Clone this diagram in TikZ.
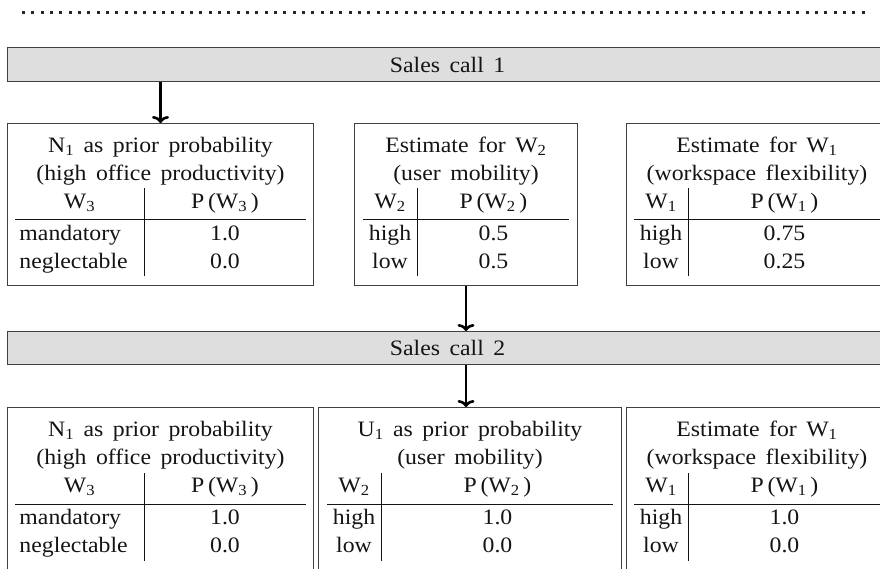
\documentclass[tikz,border=0pt]{standalone}
\usepackage{fontspec}
\setmainfont[FakeStretch=1.08,WordSpace=1.6]{Liberation Serif}
\usepackage{array}
\usepackage{tikz}
\usetikzlibrary{arrows.meta}
\usetikzlibrary{math}
\usetikzlibrary{calc}
\setlength{\tabcolsep}{4pt}
\setlength{\arrayrulewidth}{1pt}

\begin{document}
\begin{tikzpicture}[x=1pt,y=-1pt,
  every node/.style={font=\fontsize{22}{28}\selectfont, text=black!92},
  callbar/.style={draw=black!75, fill=black!13, line width=1.2pt, inner sep=0pt,
    anchor=north west, minimum width=880pt},
  probbox/.style={draw=black!75, line width=1pt, inner sep=0pt,
    anchor=north west, minimum height=\boxh pt},
  flow/.style={-{To[length=7pt,width=17pt]}, line width=2.6pt},
  dotline/.style={line width=3pt, dash pattern=on 3pt off 6.33pt, black!85}]

  \tikzmath{
    \boxh    = 162; % height of the probability boxes
    \rowone  = 123; % top of the boxes after sales call 1
    \rowtwo  = 407; % top of the boxes after sales call 2
    \wide    = 306; % width of the N1 boxes
    \narrow  = 261; % width of the W1 boxes
  }

  \useasboundingbox (0,0) rectangle (880,569);

  % separator on top
  \coordinate (dotsL) at (22,13);
  \coordinate (dotsR) at (867,13);
  \draw[dotline] (dotsL) -- (dotsR);

  % sales call bars
  \node[callbar, minimum height=34pt] (call1) at (7,47) {Sales call 1};
  \node[callbar, minimum height=33pt] (call2) at (7,331) {Sales call 2};

  % boxes after sales call 1
  \node[probbox, minimum width=\wide pt] (priorN) at (7,\rowone) {%
    \begin{tabular}{wl{120pt}|wc{153pt}}
      \multicolumn{2}{c}{N\textsubscript{1} as prior probability}\\
      \multicolumn{2}{c}{(high office productivity)}\\
      \multicolumn{1}{c|}{W\textsubscript{3}} & P\,(W\textsubscript{3}\,)\\[3pt] \hline
      mandatory & 1.0\\
      neglectable & 0.0
    \end{tabular}};

  \node[probbox, minimum width=223pt] (estWtwo) at (354,\rowone) {%
    \begin{tabular}{wc{46pt}|wc{143pt}}
      \multicolumn{2}{c}{Estimate for W\textsubscript{2}}\\
      \multicolumn{2}{c}{(user mobility)}\\
      W\textsubscript{2} & P\,(W\textsubscript{2}\,)\\[3pt] \hline
      high & 0.5\\
      low & 0.5
    \end{tabular}};

  \node[probbox, minimum width=\narrow pt] (estWone) at (626,\rowone) {%
    \begin{tabular}{wc{46pt}|wc{183pt}}
      \multicolumn{2}{c}{Estimate for W\textsubscript{1}}\\
      \multicolumn{2}{c}{(workspace flexibility)}\\
      W\textsubscript{1} & P\,(W\textsubscript{1}\,)\\[3pt] \hline
      high & 0.75\\
      low & 0.25
    \end{tabular}};

  % boxes after sales call 2
  \node[probbox, minimum width=\wide pt] (priorNb) at (7,\rowtwo) {%
    \begin{tabular}{wl{120pt}|wc{153pt}}
      \multicolumn{2}{c}{N\textsubscript{1} as prior probability}\\
      \multicolumn{2}{c}{(high office productivity)}\\
      \multicolumn{1}{c|}{W\textsubscript{3}} & P\,(W\textsubscript{3}\,)\\[3pt] \hline
      mandatory & 1.0\\
      neglectable & 0.0
    \end{tabular}};

  \node[probbox, minimum width=303pt] (priorU) at (318,\rowtwo) {%
    \begin{tabular}{wc{46pt}|wc{223pt}}
      \multicolumn{2}{c}{U\textsubscript{1} as prior probability}\\
      \multicolumn{2}{c}{(user mobility)}\\
      W\textsubscript{2} & P\,(W\textsubscript{2}\,)\\[3pt] \hline
      high & 1.0\\
      low & 0.0
    \end{tabular}};

  \node[probbox, minimum width=\narrow pt] (estWoneb) at (626,\rowtwo) {%
    \begin{tabular}{wc{46pt}|wc{183pt}}
      \multicolumn{2}{c}{Estimate for W\textsubscript{1}}\\
      \multicolumn{2}{c}{(workspace flexibility)}\\
      W\textsubscript{1} & P\,(W\textsubscript{1}\,)\\[3pt] \hline
      high & 1.0\\
      low & 0.0
    \end{tabular}};

  % flow between the calls
  \draw[flow] (call1.south -| priorN.north) -- (priorN.north);
  \draw[flow] (estWtwo.south) -- (estWtwo.south |- call2.north);
  \draw[flow] (call2.south -| estWtwo.south) -- (estWtwo.south |- priorU.north);

\end{tikzpicture}
\end{document}
